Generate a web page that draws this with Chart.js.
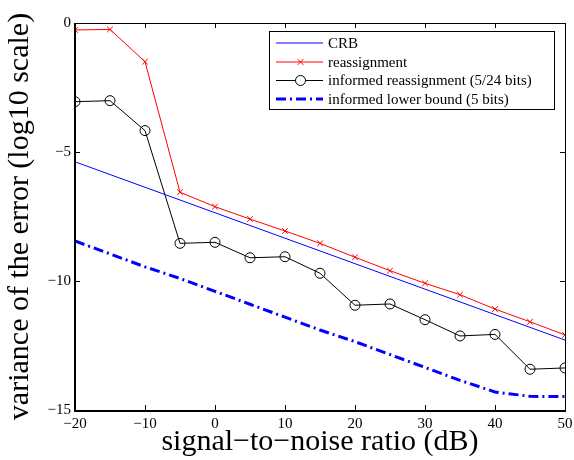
<!DOCTYPE html>
<html><head><meta charset="utf-8">
<script src="https://cdn.jsdelivr.net/npm/chart.js@4.4.0/dist/chart.umd.min.js"></script>
<style>html,body{margin:0;padding:0;background:#fff}#wrap{width:574px;height:460px}</style>
</head><body><div id="wrap"><canvas id="c"></canvas></div>
<script>
const snr = [-20, -15, -10, -5, 0, 5, 10, 15, 20, 25, 30, 35, 40, 45, 50];
const crbSnr = [-20, 50];
const crb = [-5.38, -12.29];
const reassign = [-0.27, -0.25, -1.5, -6.56, -7.12, -7.6, -8.06, -8.54, -9.08, -9.6, -10.09, -10.53, -11.09, -11.58, -12.09];
const informed = [-3.05, -3.01, -4.17, -8.54, -8.5, -9.1, -9.06, -9.7, -10.94, -10.89, -11.5, -12.13, -12.07, -13.42, -13.37];
const lowerBound = [-8.45, -8.95, -9.45, -9.9, -10.4, -10.9, -11.4, -11.9, -12.35, -12.85, -13.35, -13.85, -14.3, -14.47, -14.48];
const xTicks = [-20, -10, 0, 10, 20, 30, 40, 50];
const yTicks = [-15, -10, -5, 0];
const names = ['CRB', 'reassignment', 'informed reassignment (5/24 bits)', 'informed lower bound (5 bits)'];

const serif = "'Liberation Serif', 'Times New Roman', serif";
const pts = (xs, ys) => xs.map((x, i) => ({x: x, y: ys[i]}));
const minus = v => String(v).replace('-', '\u2212');

// matlab style box with inward ticks, plus the legend
const frame = {
  id: 'frame',
  afterDraw(chart) {
    const {ctx, chartArea: a, scales: {x, y}} = chart;
    ctx.save();
    ctx.strokeStyle = '#000';
    ctx.lineWidth = 1;
    ctx.strokeRect(a.left + 0.5, a.top + 0.5, a.right - a.left, a.bottom - a.top);
    ctx.lineWidth = 2;
    ctx.beginPath();
    ctx.moveTo(a.left, a.top); ctx.lineTo(a.left, a.bottom + 1); ctx.lineTo(a.right + 1, a.bottom + 1);
    ctx.stroke();
    ctx.lineWidth = 1;
    ctx.beginPath();
    xTicks.forEach(v => {
      const px = Math.round(x.getPixelForValue(v)) + 0.5;
      ctx.moveTo(px, a.bottom); ctx.lineTo(px, a.bottom - 5);
      ctx.moveTo(px, a.top); ctx.lineTo(px, a.top + 5);
    });
    yTicks.forEach(v => {
      const py = Math.round(y.getPixelForValue(v)) + 0.5;
      ctx.moveTo(a.left, py); ctx.lineTo(a.left + 5, py);
      ctx.moveTo(a.right, py); ctx.lineTo(a.right - 5, py);
    });
    ctx.stroke();

    // legend
    const bx = 269, by = 31, bw = 285, bh = 78;
    ctx.fillStyle = '#fff';
    ctx.fillRect(bx, by, bw, bh);
    ctx.strokeRect(bx + 0.5, by + 0.5, bw, bh);
    ctx.font = '15px ' + serif;
    ctx.textBaseline = 'middle';
    const rows = [43, 62, 80.5, 99];
    chart.data.datasets.forEach((ds, i) => {
      const ry = rows[i];
      ctx.save();
      ctx.strokeStyle = ds.borderColor;
      ctx.lineWidth = ds.borderWidth;
      ctx.setLineDash(ds.borderDash || []);
      ctx.beginPath(); ctx.moveTo(276, ry); ctx.lineTo(323, ry); ctx.stroke();
      ctx.setLineDash([]);
      if (ds.pointRadius > 0) {
        ctx.lineWidth = 1;
        ctx.strokeStyle = ds.pointBorderColor;
        ctx.fillStyle = '#fff';
        Chart.helpers.drawPoint(ctx, {pointStyle: ds.pointStyle, radius: ds.pointRadius, borderWidth: 1}, 300.5, ry);
      }
      ctx.restore();
      ctx.fillStyle = '#000';
      ctx.fillText(ds.label, 328, ry + 1);
    });
    ctx.restore();
  }
};

new Chart(document.getElementById('c'), {
  type: 'line',
  data: {
    datasets: [
      {label: names[0], data: pts(crbSnr, crb), borderColor: '#0000ff', borderWidth: 1, pointRadius: 0},
      {label: names[1], data: pts(snr, reassign), borderColor: '#ff0000', borderWidth: 1,
       pointStyle: 'crossRot', pointRadius: 4, pointBorderColor: '#ff0000', pointBackgroundColor: '#ff0000', pointBorderWidth: 1},
      {label: names[2], data: pts(snr, informed), borderColor: '#000', borderWidth: 1,
       pointStyle: 'circle', pointRadius: 5, pointBorderColor: '#000', pointBackgroundColor: 'rgba(0,0,0,0)', pointBorderWidth: 1},
      {label: names[3], data: pts(snr, lowerBound), borderColor: '#0000ff', borderWidth: 3,
       borderDash: [10, 4, 2, 4], pointRadius: 0}
    ]
  },
  options: {
    responsive: true,
    maintainAspectRatio: false,
    animation: false,
    layout: {padding: {top: 23, right: 9}},
    plugins: {legend: {display: false}, tooltip: {enabled: false}},
    scales: {
      x: {
        type: 'linear', min: -20, max: 50,
        afterBuildTicks: s => { s.ticks = xTicks.map(v => ({value: v})); },
        afterFit: s => { s.height = 50; s.paddingLeft = 0; s.paddingRight = 0; },
        grid: {display: false, drawTicks: false},
        border: {display: false},
        ticks: {color: '#000', font: {family: serif, size: 15}, padding: 5, maxRotation: 0, callback: minus},
        title: {display: true, text: 'signal\u2212to\u2212noise ratio (dB)', color: '#000',
                font: {family: serif, size: 30}, padding: {top: 0, bottom: 0}}
      },
      y: {
        min: -15, max: 0,
        afterBuildTicks: s => { s.ticks = yTicks.map(v => ({value: v})); },
        afterFit: s => { s.width = 75; s.paddingTop = 0; s.paddingBottom = 0; },
        grid: {display: false, drawTicks: false},
        border: {display: false},
        ticks: {color: '#000', font: {family: serif, size: 15}, padding: 4, callback: minus},
        title: {display: true, text: 'variance of the error (log10 scale)', color: '#000',
                font: {family: serif, size: 30}, padding: {top: 2, bottom: 0}}
      }
    }
  },
  plugins: [frame]
});
</script>
</body></html>
